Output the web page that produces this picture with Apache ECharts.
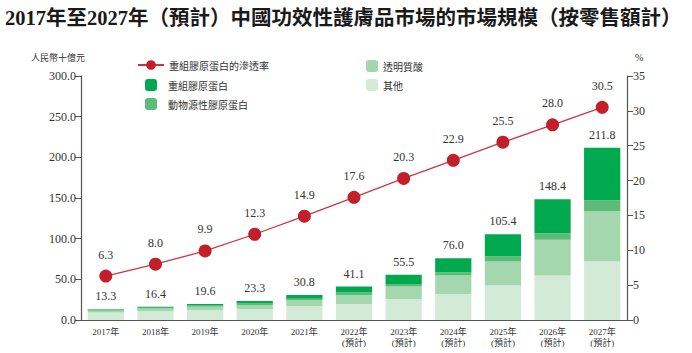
<!DOCTYPE html>
<html>
<head>
<meta charset="utf-8">
<script src="https://cdn.jsdelivr.net/npm/echarts@6/dist/echarts.min.js"></script>
<style>
  html, body { margin: 0; padding: 0; background: #fff; }
  #chart { width: 692px; height: 353px; }
</style>
</head>
<body>
<div id="chart"></div>
<script>
const years = ['2017年', '2018年', '2019年', '2020年', '2021年', '2022年\n(預計)', '2023年\n(預計)',
    '2024年\n(預計)', '2025年\n(預計)', '2026年\n(預計)', '2027年\n(預計)'];
const totals = [13.3, 16.4, 19.6, 23.3, 30.8, 41.1, 55.5, 76.0, 105.4, 148.4, 211.8];
const others = [9.2, 11.0, 12.2, 13.5, 17.1, 19.7, 25.5, 32.1, 42.4, 54.7, 72.0];
const hyaluronic = [2.3, 3.0, 4.0, 5.0, 7.5, 11.0, 15.6, 22.6, 29.6, 44.1, 61.7];
const animalCollagen = [1.0, 1.1, 1.5, 1.9, 1.6, 3.2, 3.1, 3.9, 6.5, 8.0, 13.5];
const recombCollagen = [0.8, 1.3, 1.9, 2.9, 4.6, 7.2, 11.3, 17.4, 26.9, 41.6, 64.6];
const penetration = [6.3, 8.0, 9.9, 12.3, 14.9, 17.6, 20.3, 22.9, 25.5, 28.0, 30.5];

const serif = '"Liberation Serif", "Noto Sans CJK TC", serif';
const cjk = '"Noto Sans CJK TC", sans-serif';

const chart = echarts.init(document.getElementById('chart'), null, { renderer: 'svg' });

const legendText = { fontFamily: cjk, fontSize: 10, color: '#333' };

let option = {
    title: {
        text: '2017年至2027年（預計）中國功效性護膚品市場的市場規模（按零售額計）',
        left: 0,
        top: 3,
        textStyle: { fontFamily: serif, fontSize: 20.5, fontWeight: 'bold', color: '#1a1a1a' }
    },
    legend: [
        {
            data: ['重組膠原蛋白的滲透率'],
            left: 132, top: 55,
            itemWidth: 26, itemHeight: 12,
            textStyle: legendText
        },
        {
            data: ['重組膠原蛋白', '動物源性膠原蛋白'],
            orient: 'vertical',
            left: 140, top: 74,
            itemWidth: 12, itemHeight: 12, itemGap: 7,
            textStyle: Object.assign({ padding: [0, 0, 0, 6] }, legendText)
        },
        {
            data: ['透明質酸', '其他'],
            orient: 'vertical',
            left: 361, top: 55,
            itemWidth: 12, itemHeight: 12, itemGap: 7,
            textStyle: legendText
        }
    ],
    grid: { left: 81, right: 65, top: 76, bottom: 33 },
    xAxis: {
        type: 'category',
        data: years,
        axisTick: { show: false },
        axisLine: { lineStyle: { color: '#555', width: 1.2 } },
        axisLabel: { fontFamily: serif, fontSize: 9, color: '#333', lineHeight: 11, margin: 6 }
    },
    yAxis: [
        {
            type: 'value',
            min: 0, max: 300, interval: 50,
            name: '人民幣十億元',
            nameGap: 14,
            nameTextStyle: { fontFamily: cjk, fontSize: 9, color: '#333', align: 'right', padding: [0, -4, 0, 0] },
            axisLine: { show: true, lineStyle: { color: '#555', width: 1.2 } },
            axisTick: { show: true, length: 6, lineStyle: { color: '#555' } },
            splitLine: { show: false },
            axisLabel: { fontFamily: serif, fontSize: 12, color: '#333', margin: 5,
                formatter: function (v) { return v.toFixed(1); } }
        },
        {
            type: 'value',
            min: 0, max: 35, interval: 5,
            name: '%',
            nameGap: 14,
            nameTextStyle: { fontFamily: serif, fontSize: 10, color: '#333', align: 'left', padding: [0, 0, 0, 8] },
            axisLine: { show: true, lineStyle: { color: '#555', width: 1.2 } },
            axisTick: { show: true, length: 6, lineStyle: { color: '#555' } },
            splitLine: { show: false },
            axisLabel: { fontFamily: serif, fontSize: 12, color: '#333', margin: 6 }
        }
    ],
    series: [
        {
            name: '其他', type: 'bar', stack: 'size', data: others,
            barCategoryGap: '27%',
            itemStyle: { color: '#d3ebd6' }
        },
        {
            name: '透明質酸', type: 'bar', stack: 'size', data: hyaluronic,
            itemStyle: { color: '#a5d7ae' }
        },
        {
            name: '動物源性膠原蛋白', type: 'bar', stack: 'size', data: animalCollagen,
            itemStyle: { color: '#5dbb79' }
        },
        {
            name: '重組膠原蛋白', type: 'bar', stack: 'size', data: recombCollagen,
            itemStyle: { color: '#00a84e' },
            label: {
                show: true, position: 'top', distance: 7,
                fontFamily: serif, fontSize: 12, color: '#333',
                formatter: function (p) { return totals[p.dataIndex].toFixed(1); }
            }
        },
        {
            name: '重組膠原蛋白的滲透率', type: 'line', yAxisIndex: 1, data: penetration,
            symbol: 'circle', symbolSize: 13,
            lineStyle: { color: '#d2343e', width: 1.3 },
            itemStyle: { color: '#c31f2b' },
            label: {
                show: true, position: 'top', distance: 9,
                fontFamily: serif, fontSize: 12, color: '#333',
                formatter: function (p) { return p.value.toFixed(1); }
            },
            z: 5
        }
    ]
};

window.addEventListener('resize', function () {
    chart.resize();
});

option && chart.setOption(option);
</script>
</body>
</html>
